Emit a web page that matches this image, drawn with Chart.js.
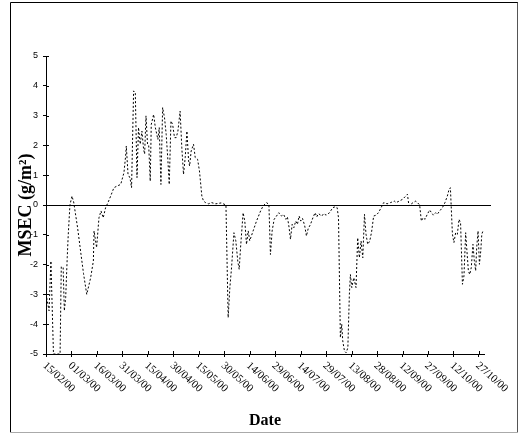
<!DOCTYPE html>
<html><head><meta charset="utf-8">
<script src="https://cdn.jsdelivr.net/npm/chart.js@4/dist/chart.umd.min.js"></script>
<style>html,body{margin:0;padding:0;background:#fff;overflow:hidden}canvas{display:block}</style>
</head><body>
<canvas id="c" width="519" height="434"></canvas>
<script>
// days since 15/02/00
const days = [0,1.8,2.9,4.4,8.3,9.0,10.1,10.8,11.6,12.5,13.1,14.1,15.3,16.3,18.6,20.6,22.1,24.0,26.3,27.9,28.3,29.8,31.2,32.4,33.7,35.1,36.5,38.1,40.0,42.0,44.0,45.9,46.9,47.3,48.3,49.5,50.4,51.6,52.6,53.6,54.5,55.5,56.5,57.5,58.1,58.9,59.8,60.5,61.4,62.0,63.4,64.4,65.9,66.7,67.7,68.7,69.8,70.8,71.8,72.6,73.6,74.6,75.7,76.7,77.7,79.0,80.0,81.0,82.0,83.0,84.0,84.6,85.5,86.9,87.9,89.3,90.4,91.8,92.8,94.0,95.7,97.5,100.0,103.2,104.4,106.0,107.3,108.3,109.3,110.7,111.8,113.0,113.8,114.6,116.1,117.1,118.1,119.1,120.0,122.0,124.0,126.4,127.9,129.9,131.3,132.2,133.2,134.4,135.8,137.1,138.7,140.0,141.3,142.2,143.2,144.0,145.0,146.0,147.1,148.1,149.1,150.1,151.1,152.4,153.4,154.4,155.8,157.2,158.5,159.5,160.5,162.5,163.5,165.0,167.0,168.9,170.3,171.5,172.3,173.4,174.2,174.8,175.8,176.8,177.8,178.7,179.3,180.1,181.3,182.6,183.6,184.6,185.6,186.6,187.6,188.5,189.5,190.7,191.8,193.0,194.5,195.8,197.4,198.9,200.9,202.9,205.2,206.2,208.0,210.0,211.9,212.9,213.8,214.8,216.2,217.8,218.8,220.1,221.1,222.1,223.3,224.6,226.0,227.1,228.2,229.5,230.5,231.9,233.5,235.0,236.4,237.4,238.2,239.4,240.3,241.3,242.3,243.3,244.2,245.3,246.2,247.2,247.8,248.8,249.6,250.5,251.5,252.3,253.1,253.7,254.5,255.3,256.1,256.7,257.4];
const msec = [-2.98,-3.55,-1.88,-5.0,-5.0,-2.07,-2.1,-3.55,-3.1,-1.77,-1.0,0.0,0.3,0.1,-0.76,-1.65,-2.3,-3.0,-2.44,-1.88,-0.87,-1.43,-0.43,-0.2,-0.43,-0.09,0.08,0.3,0.58,0.64,0.69,1.08,1.64,1.98,1.04,0.9,0.58,3.83,3.77,0.92,2.6,2.04,2.48,1.87,1.71,2.99,2.04,2.0,0.8,2.7,3.04,2.6,2.2,2.6,0.69,3.27,2.93,2.37,1.5,0.69,2.82,2.7,2.26,2.26,2.48,3.15,1.92,1.03,1.59,2.48,1.48,1.31,1.81,2.04,1.59,1.53,1.14,0.3,0.13,0.08,0.04,0.08,0.04,0.07,0.04,0.0,-3.78,-2.77,-2.1,-0.93,-1.2,-1.9,-2.16,-1.43,-0.26,-0.54,-1.32,-0.87,-1.2,-0.87,-0.54,-0.2,-0.03,0.08,0.02,-1.66,-0.87,-0.48,-0.37,-0.26,-0.37,-0.32,-0.48,-0.4,-0.76,-1.15,-0.65,-0.76,-0.54,-0.65,-0.37,-0.54,-0.45,-0.7,-1.04,-0.8,-0.65,-0.43,-0.26,-0.4,-0.29,-0.37,-0.29,-0.34,-0.26,-0.09,-0.06,-0.09,-0.43,-4.45,-4.0,-4.56,-4.9,-4.96,-4.79,-3.0,-2.33,-2.77,-2.44,-2.77,-1.1,-1.77,-1.21,-1.77,-0.31,-0.98,-1.32,-1.21,-0.9,-0.37,-0.34,-0.26,-0.09,0.08,0.04,0.08,0.13,0.08,0.13,0.19,0.3,0.36,-0.03,0.02,0.08,0.13,0.08,0.0,-0.54,-0.43,-0.48,-0.31,-0.17,-0.26,-0.34,-0.26,-0.31,-0.2,-0.09,0.08,0.3,0.52,0.58,-0.98,-1.26,-0.93,-0.98,-0.48,-0.6,-2.66,-2.38,-0.93,-1.43,-2.21,-2.33,-2.1,-1.32,-1.88,-2.21,-1.43,-0.87,-1.99,-1.54,-0.98,-0.87];
const tickDays = [0,15,30,45,60,75,90,105,120,135,150,165,180,195,210,225,240,255];
const tickLabels = ['15/02/00','01/03/00','16/03/00','31/03/00','15/04/00','30/04/00','15/05/00','30/05/00','14/06/00','29/06/00','14/07/00','29/07/00','13/08/00','28/08/00','12/09/00','27/09/00','12/10/00','27/10/00'];

const decor = {
  id: 'decor',
  beforeDatasetsDraw(chart) {
    const {ctx, chartArea: a, scales: {y}} = chart;
    ctx.save();
    const y0 = Math.round(y.getPixelForValue(0)) + 0.5;
    ctx.strokeStyle = '#000'; ctx.lineWidth = 1;
    ctx.beginPath(); ctx.moveTo(a.left, y0); ctx.lineTo(a.right + 7, y0); ctx.stroke();
    ctx.restore();
  },
  afterDraw(chart) {
    const {ctx, chartArea: a, scales: {x, y}} = chart;
    ctx.save();
    ctx.strokeStyle = '#000'; ctx.lineWidth = 1;
    ctx.beginPath();
    x.ticks.forEach(t => { const px = Math.round(x.getPixelForValue(t.value)) + 0.5; ctx.moveTo(px, a.bottom); ctx.lineTo(px, a.bottom - 3); });
    y.ticks.forEach(t => { const py = Math.round(y.getPixelForValue(t.value)) + 0.5; ctx.moveTo(a.left, py); ctx.lineTo(a.left + 3, py); });
    ctx.stroke();
    ctx.fillStyle = '#000';
    ctx.font = '11px "Liberation Serif"';
    ctx.textAlign = 'left'; ctx.textBaseline = 'top';
    x.ticks.forEach(t => {
      const i = tickDays.indexOf(t.value);
      if (i < 0) return;
      const px = x.getPixelForValue(t.value);
      ctx.save();
      ctx.translate(px + 2, a.bottom + 6);
      ctx.rotate(42 * Math.PI / 180);
      ctx.fillText(tickLabels[i], 0, 0);
      ctx.restore();
    });
    // frame
    ctx.strokeStyle = '#000';
    ctx.beginPath();
    ctx.moveTo(10.5, 433); ctx.lineTo(10.5, 2.5); ctx.lineTo(518, 2.5);
    ctx.stroke();
    ctx.strokeStyle = '#555';
    ctx.beginPath(); ctx.moveTo(517.5, 2.5); ctx.lineTo(517.5, 433); ctx.stroke();
    ctx.strokeStyle = '#aaa';
    ctx.beginPath(); ctx.moveTo(10, 432.5); ctx.lineTo(518, 432.5); ctx.stroke();
    ctx.restore();
  }
};

new Chart(document.getElementById('c'), {
  type: 'line',
  data: {
    datasets: [{
      data: days.map((d, i) => ({x: d, y: msec[i]})),
      borderColor: '#000', borderWidth: 1, borderDash: [2, 2],
      pointRadius: 0, tension: 0, fill: false
    }]
  },
  options: {
    responsive: false, animation: false,
    layout: {padding: {left: 0, top: 56, right: 35, bottom: 0}},
    plugins: {legend: {display: false}, tooltip: {enabled: false}},
    scales: {
      x: {
        type: 'linear', min: 0, max: 258,
        afterBuildTicks: s => { s.ticks = tickDays.map(v => ({value: v})); },
        afterFit: s => { s.height = 80; },
        ticks: {display: false},
        grid: {drawOnChartArea: false, drawTicks: true, tickLength: 3, color: '#000', tickColor: '#000'},
        border: {display: true, color: '#000', width: 1},
        title: {display: true, text: 'Date', color: '#000',
          font: {family: 'Liberation Serif', size: 16, weight: 'bold'}, padding: {top: 0, bottom: 4}}
      },
      y: {
        min: -5, max: 5,
        afterFit: s => { s.width = 46; },
        ticks: {stepSize: 1, color: '#000', padding: 5, font: {family: 'Liberation Sans', size: 9},
          callback: v => String(v)},
        grid: {drawOnChartArea: false, drawTicks: true, tickLength: 3, color: '#000', tickColor: '#000'},
        border: {display: true, color: '#000', width: 1},
        title: {display: true, text: 'MSEC (g/m²)', color: '#000',
          font: {family: 'Liberation Serif', size: 18, weight: 'bold'}, padding: {top: 16, bottom: 0}}
      }
    }
  },
  plugins: [decor]
});
</script>
</body></html>
